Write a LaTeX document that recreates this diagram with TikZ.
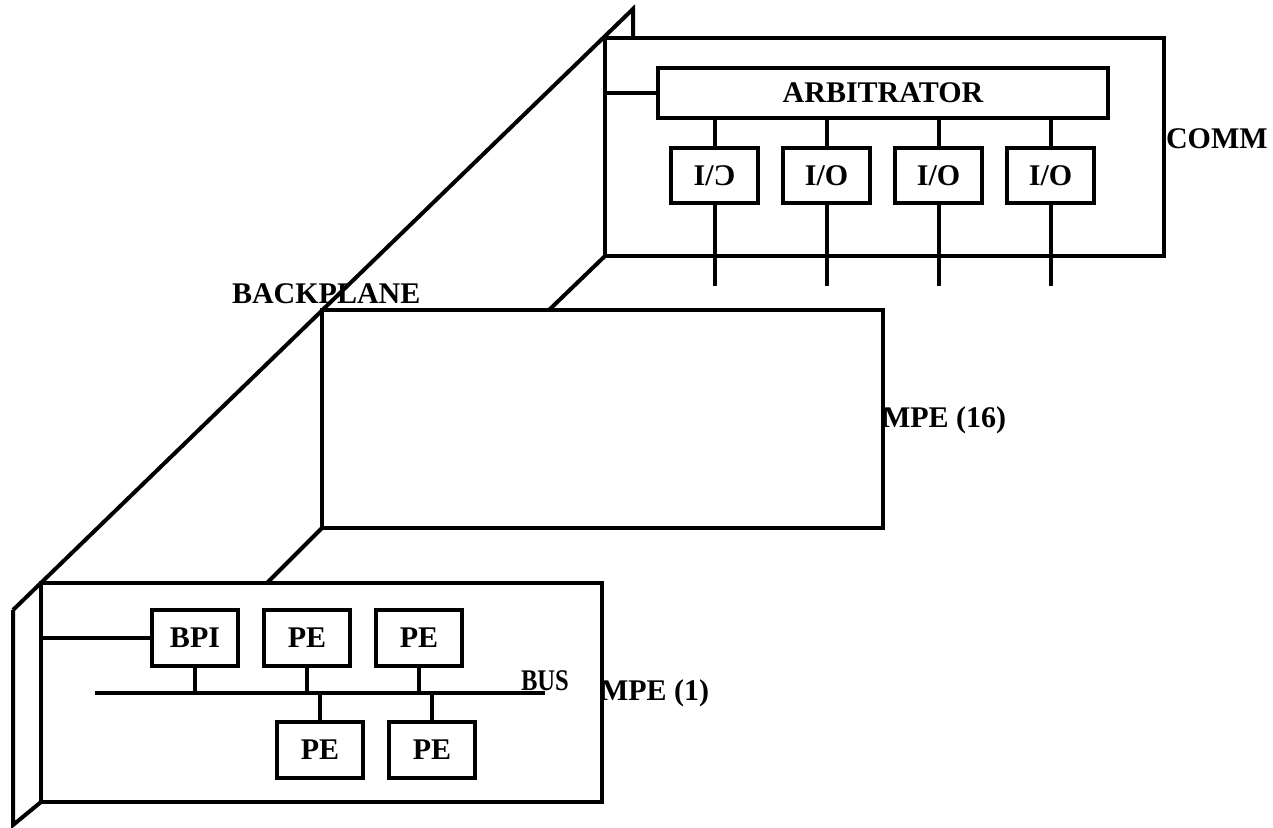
\documentclass[tikz,border=0pt]{standalone}
\usepackage{fontspec}
\setmainfont{Liberation Serif}
\begin{document}
\begin{tikzpicture}[x=1pt,y=-1pt,line width=4pt,
  box/.style={draw, line width=4pt, inner sep=0pt, outer sep=0pt, anchor=north west,
    font=\bfseries\fontsize{30}{36}\selectfont},
  lbl/.style={anchor=base west, inner sep=0pt, outer sep=0pt,
    font=\bfseries\fontsize{30}{36}\selectfont}]
\useasboundingbox (0,0) rectangle (1273,827);

% boxes
\node[box, minimum width=559pt, minimum height=218pt] (comm) at (605,38) {};
\node[box, minimum width=450pt, minimum height=50pt] (arb) at (658,68) {ARBITRATOR};
\node[box, minimum width=87pt, minimum height=55pt] (io1) at (671,148) {I/\reflectbox{C}};
\node[box, minimum width=87pt, minimum height=55pt] (io2) at (783,148) {I/O};
\node[box, minimum width=87pt, minimum height=55pt] (io3) at (895,148) {I/O};
\node[box, minimum width=87pt, minimum height=55pt] (io4) at (1007,148) {I/O};

\node[box, minimum width=561pt, minimum height=218pt] (mpe16) at (322,310) {};

\node[box, minimum width=561pt, minimum height=219pt] (mpe1) at (41,583) {};
\node[box, minimum width=86pt, minimum height=56pt] (bpi) at (152,610) {BPI};
\node[box, minimum width=86pt, minimum height=56pt] (pe1) at (264,610) {PE};
\node[box, minimum width=86pt, minimum height=56pt] (pe2) at (376,610) {PE};
\node[box, minimum width=86pt, minimum height=56pt] (pe3) at (277,722) {PE};
\node[box, minimum width=86pt, minimum height=56pt] (pe4) at (389,722) {PE};

% labels
\node[lbl] (lcomm) at (1166,148) {COMM};
\node[lbl] (l16) at (882,427) {MPE (16)};
\node[lbl] (l1) at (600,700) {MPE (1)};
\node[lbl] (lbus) at (521,690) {\scalebox{0.82}[1]{BUS}};
\node[lbl] (lbp) at (232,303) {BACKPLANE};

% backplane
\coordinate (bpA) at (13,610);
\coordinate (bpB) at (633,9);
\coordinate (bpC) at (633,38);
\coordinate (bpD) at (13,825);
\coordinate (h1) at (549,310);
\coordinate (h3) at (267,583);
\draw (bpA) -- (bpB) -- (bpC);
\draw (bpA) -- (bpD) -- (mpe1.south west);
\draw (h1) -- (comm.south west);
\draw (h3) -- (mpe16.south west);

% COMM wiring
\coordinate (oline) at (0,286);
\draw (comm.west |- arb.west) -- (arb.west);
\foreach \i in {1,2,3,4}{
  \draw (arb.south -| io\i.north) -- (io\i.north);
  \draw (io\i.south) -- (io\i.south |- oline);
}

% MPE(1) wiring
\coordinate (busL) at (95,693);
\coordinate (busR) at (545,693);
\draw (busL) -- (busR);
\draw (mpe1.west |- bpi.west) -- (bpi.west);
\draw (bpi.south) -- (bpi.south |- busL);
\draw (pe1.south) -- (pe1.south |- busL);
\draw (pe2.south) -- (pe2.south |- busL);
\draw (pe3.north) -- (pe3.north |- busL);
\draw (pe4.north) -- (pe4.north |- busL);
\end{tikzpicture}
\end{document}
